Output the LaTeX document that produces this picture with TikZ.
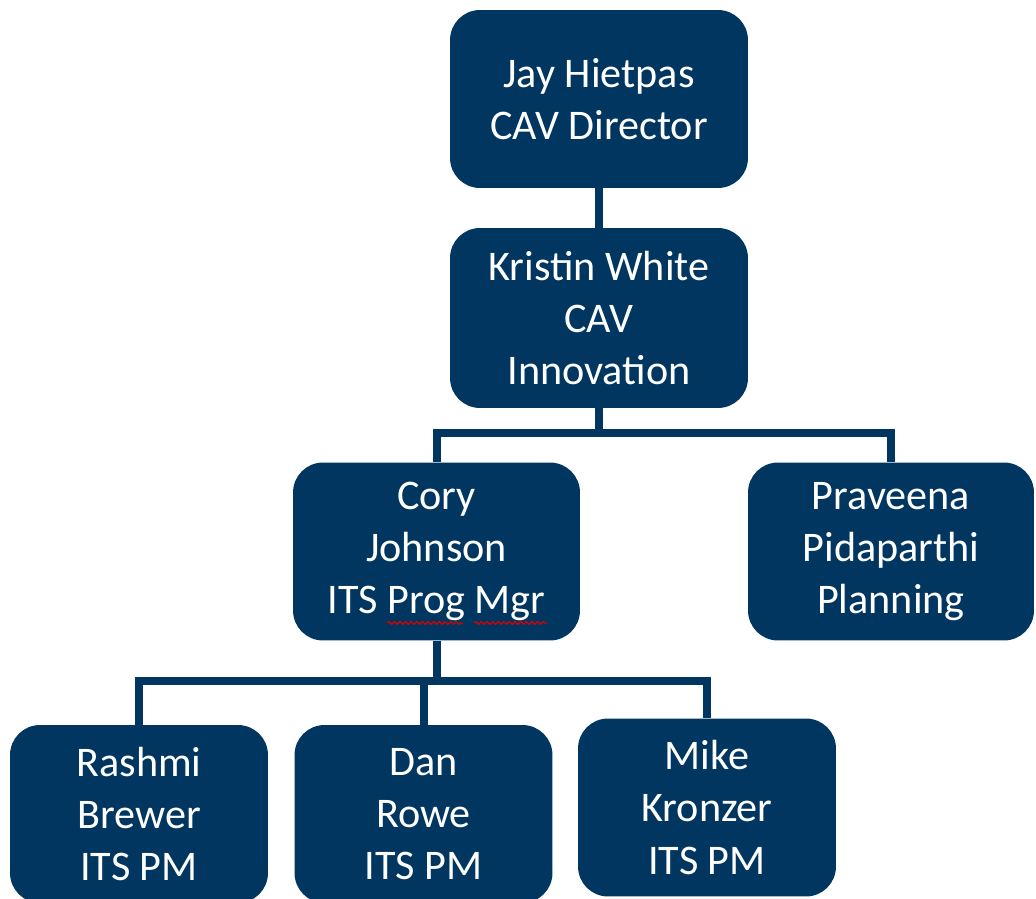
\documentclass[tikz,border=0pt]{standalone}
\usepackage{fontspec}
\setmainfont{Carlito}
\usetikzlibrary{decorations.pathmorphing}
\definecolor{orgblue}{RGB}{0,54,96}
\tikzset{
  person/.style={fill=orgblue, text=white, rounded corners=0.6cm, align=center,
    inner sep=0pt, minimum height=3.56cm, font=\fontsize{24}{29.6}\selectfont},
  link/.style={draw=orgblue, line width=0.16cm},
  spell/.style={draw=red!85!black, line width=0.7pt, decorate,
    decoration={snake, amplitude=0.8pt, segment length=3.2pt}}
}
\begin{document}
\begin{tikzpicture}[x=0.02cm,y=-0.02cm]
      \useasboundingbox (0,0) rectangle (1036,899);
      \draw
        (599,99) node[person, minimum width=5.96cm] (jay) {Jay Hietpas\\CAV Director}
        (599,318) node[person, minimum width=5.96cm, minimum height=3.6cm] (kristin) {Kristin White\\CAV\\Innovation}
        (436.5,551.5) node[person, minimum width=5.74cm] (cory) {Cory\\Johnson\\ITS Prog Mgr}
        (891,551.5) node[person, minimum width=5.72cm] (praveena) {Praveena\\Pidaparthi\\Planning}
        (139,814) node[person, minimum width=5.16cm] (rashmi) {Rashmi\\Brewer\\ITS PM}
        (423.5,814) node[person, minimum width=5.16cm] (dan) {Dan\\Rowe\\ITS PM}
        (707,807.5) node[person, minimum width=5.16cm] (mike) {Mike\\Kronzer\\ITS PM};
      \coordinate (kbus) at (599,433);
      \coordinate (cbus) at (436.5,681);
      \begin{scope}[-]
        \draw[link] (jay) to (kristin);
        \draw[link] (kristin) to (kbus);
        \draw[link] (cory.north) |- (kbus) -| (praveena.north);
        \draw[link] (cory) to (cbus);
        \draw[link] (rashmi.north) |- (cbus) -| (mike.north);
        \draw[link] (cbus -| dan.north) to (dan.north);
      \end{scope}
      \draw[spell] (387,623) -- (463,623);
      \draw[spell] (474,623) -- (547,623);
    \end{tikzpicture}
\end{document}
